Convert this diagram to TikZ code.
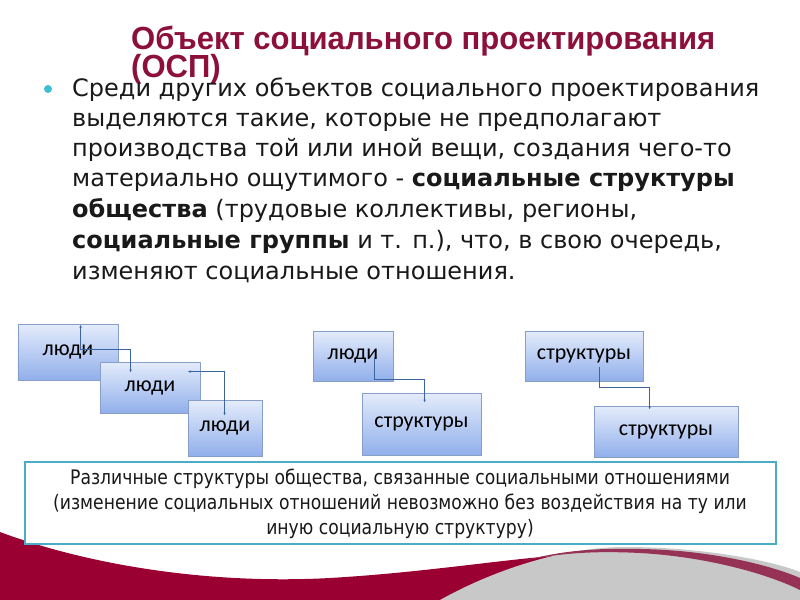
\documentclass[tikz,border=0pt]{standalone}
\usepackage{fontspec}
\setmainfont{DejaVu Sans}
\newfontfamily\bodyfont{DejaVu Sans}
\newfontfamily\titlefont[FakeStretch=0.97]{Liberation Sans}
\newfontfamily\boxfont{Carlito}
\newfontfamily\notefont[FakeStretch=0.86]{DejaVu Sans}
\usetikzlibrary{arrows.meta,calc}
\definecolor{titlered}{RGB}{140,16,58}
\definecolor{bulletcyan}{RGB}{60,190,215}
\definecolor{boxtop}{RGB}{228,236,251}
\definecolor{boxbot}{RGB}{145,175,235}
\definecolor{boxedge}{RGB}{135,158,200}
\definecolor{linkblue}{RGB}{60,100,160}
\definecolor{noteedge}{RGB}{75,172,198}
\definecolor{swred}{RGB}{155,0,50}
\definecolor{swband}{RGB}{150,50,85}
\definecolor{swgrey}{RGB}{200,200,200}
\tikzset{
  bluebox/.style={rectangle, draw=boxedge, line width=0.8bp, top color=boxtop, bottom color=boxbot,
    inner sep=0pt, font=\boxfont\fontsize{22bp}{26bp}\selectfont, text=black},
  link/.style={draw=linkblue, line width=0.8bp},
  tip/.style={-{Latex[length=3bp,width=2.5bp]}},
  tips/.style={{Latex[length=3bp,width=2.5bp]}-{Latex[length=3bp,width=2.5bp]}},
  bodyline/.style={anchor=base west, inner sep=0pt, font=\bodyfont\fontsize{24bp}{30bp}\selectfont, text=black!90},
  titleline/.style={anchor=base west, inner sep=0pt, font=\titlefont\bfseries\fontsize{32bp}{36bp}\selectfont, text=titlered},
  noteline/.style={anchor=base, inner sep=0pt, font=\notefont\fontsize{20bp}{24bp}\selectfont, text=black!90}
}
\begin{document}
\begin{tikzpicture}[x=1bp,y=-1bp]
\useasboundingbox (0,0) rectangle (800,600);
\fill[white] (0,0) rectangle (800,600);
% background swooshes
\fill[swred] (0,532) .. controls (80,562) and (200,585) .. (330,578)
  .. controls (450,571) and (540,552) .. (620,553)
  .. controls (700,555) and (770,572) .. (800,585) -- (800,600) -- (0,600) -- cycle;
\fill[swgrey] (440,600) .. controls (490,572) and (560,547) .. (625,547)
  .. controls (700,547) and (770,560) .. (800,572) -- (800,600) -- cycle;
\fill[swband] (520,562) .. controls (560,552) and (600,551) .. (640,553)
  .. controls (710,557) and (770,575) .. (800,590) -- (800,578)
  .. controls (770,565) and (710,550) .. (640,549) .. controls (600,548) and (560,550) .. (520,562) -- cycle;
% title
\node[titleline] (t1) at (131,50) {Объект социального проектирования};
\node[titleline] (t2) at (131,78) {(ОСП)};
% bullet
\fill[bulletcyan] (48,89) circle (4);
% body
\node[bodyline] (l1) at (72,97) {Среди других объектов социального проектирования};
\node[bodyline] (l2) at (72,127) {выделяются такие, которые не предполагают};
\node[bodyline] (l3) at (72,157) {производства той или иной вещи, создания чего-то};
\node[bodyline] (l4) at (72,187) {материально ощутимого - \textbf{социальные структуры}};
\node[bodyline] (l5) at (72,218) {\textbf{общества} (трудовые коллективы, регионы,};
\node[bodyline] (l6) at (72,248) {\textbf{социальные группы} и т. п.), что, в свою очередь,};
\node[bodyline] (l7) at (72,279) {изменяют социальные отношения.};
% boxes group 1
\node[bluebox, minimum width=100bp, minimum height=56bp] (b1) at (68,352) {люди};
\node[bluebox, minimum width=100bp, minimum height=51bp] (b2) at (150,387.5) {люди};
\node[bluebox, minimum width=74bp, minimum height=56bp] (b3) at (225,428) {люди};
% group 2
\node[bluebox, minimum width=80bp, minimum height=50bp] (b4) at (353,356) {люди};
\node[bluebox, minimum width=119bp, minimum height=62bp] (b5) at (421.5,424) {структуры};
% group 3
\node[bluebox, minimum width=118bp, minimum height=50bp] (b6) at (584,356) {структуры};
\node[bluebox, minimum width=144bp, minimum height=51bp] (b7) at (666,431.5) {структуры};
% connectors
\draw[link,tips] ($(b1.north west)+(63,1)$) -- ++(0,25) -| ($(b2.north west)+(31,11)$);
\draw[link,tips] ($(b2.north west)+(88,10)$) -| ($(b3.north west)+(37,16)$);
\draw[link,tip] ($(b4.north west)+(62,26)$) -- ++(0,23) -| ($(b5.north west)+(63,10)$);
\draw[link,tip] ($(b6.north west)+(75,36)$) -- ++(0,21) -| ($(b7.north west)+(56,4)$);
% note box
\node[draw=noteedge, line width=1.5bp, fill=white, minimum width=751bp, minimum height=82bp, inner sep=0pt] (note) at (400.5,503) {};
\node[noteline] (n1) at (400,484) {Различные структуры общества, связанные социальными отношениями};
\node[noteline] (n2) at (400,509) {(изменение социальных отношений невозможно без воздействия на ту или};
\node[noteline] (n3) at (400,534) {иную социальную структуру)};
\end{tikzpicture}
\end{document}
